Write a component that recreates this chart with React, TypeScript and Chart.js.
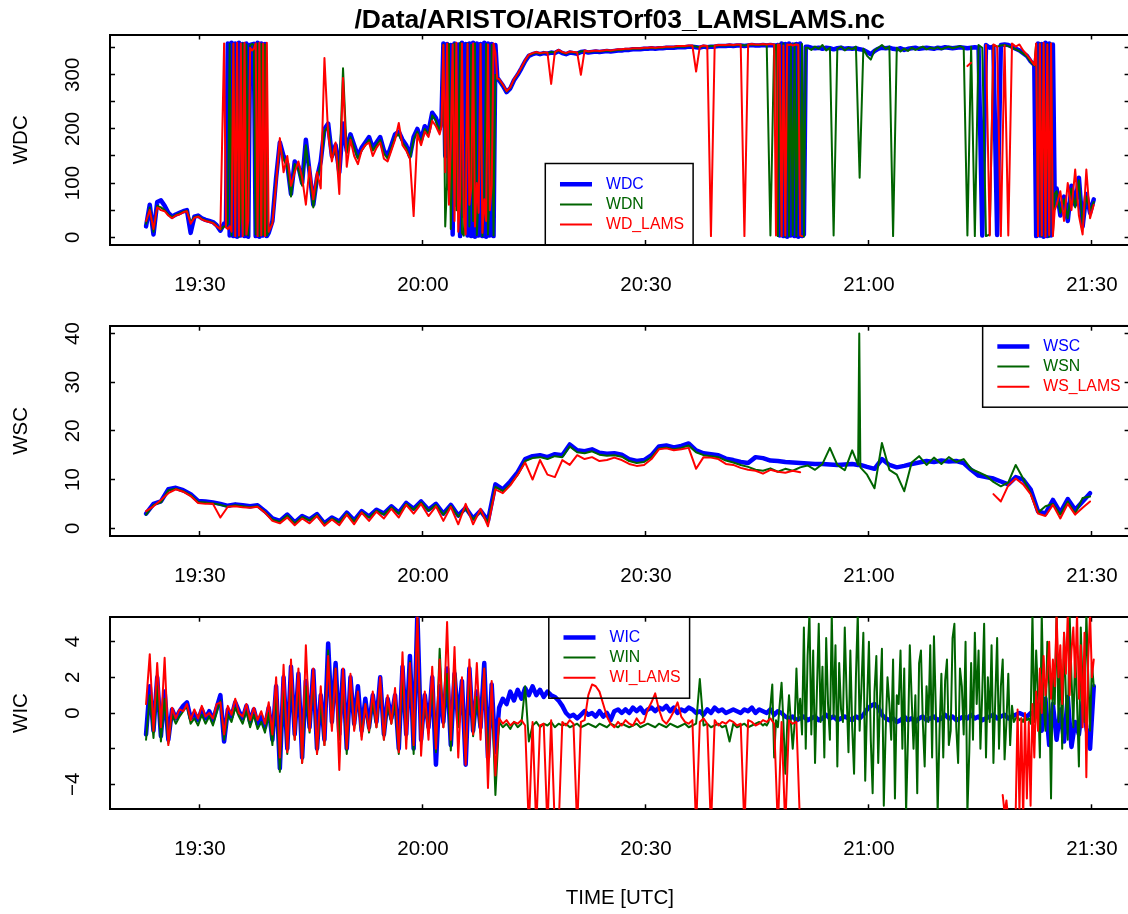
import { useEffect, useRef } from 'react';
import { Chart, registerables } from 'chart.js';

Chart.register(...registerables);

const FONT = "'Liberation Sans', Arial, Helvetica, sans-serif";
const AXIS_FONT_SIZE = 20.5;
const LEGEND_FONT_SIZE = 15.8;
const TITLE_FONT_SIZE = 26.5;

const PAGE_W = 1128;
const PAGE_H = 914;
const CANVAS_W = 1140;
const PLOT_LEFT = 110;
const PLOT_RIGHT = 1129.6;
const Y_LABEL_CENTER = 73;
const TICK_LEN = -5; // inward tick marks

const BLUE = '#0000ff';
const GREEN = '#006400';
const RED = '#ff0000';

const TITLE = '/Data/ARISTO/ARISTOrf03_LAMSLAMS.nc';
const X_TITLE = 'TIME [UTC]';

// time axis: minutes after 19:00 UTC
const X_MIN = 17.9;
const X_MAX = 155.07;
const X_TICKS = [30, 60, 90, 120, 150];
const X_TICK_LABELS = ['19:30', '20:00', '20:30', '21:00', '21:30'];

// sampling grids: [first minute, spacing in minutes, sample count]
type Grid = [number, number, number][];
const WD_GRID: Grid = [
  [22.75, 0.5, 22], [33.5, 0.25, 24], [39.75, 0.5, 46], [62.5, 0.25, 31], [70.25, 0.5, 75],
  [107.5, 0.25, 17], [111.75, 0.5, 62], [142.5, 0.25, 11], [145.25, 0.5, 11],
];
const WS_GRID: Grid = [[22.75, 1, 96], [118.55, 0.15, 3], [119.75, 1, 31]];
const WIC_GRID: Grid = [[22.75, 0.5, 256]];
const WIN_GRID: Grid = [[22.75, 0.5, 167], [106.0, 0.25, 178]];
const WIL_GRID: Grid = [[22.75, 0.5, 178], [138.0, 0.25, 50]];

const WD_TICKS = [0, 50, 100, 150, 200, 250, 300, 350];
const WD_TICK_LABELS = ['0', '', '100', '', '200', '', '300', ''];
const WS_TICKS = [0, 10, 20, 30, 40];
const WS_TICK_LABELS = ['0', '10', '20', '30', '40'];
const WI_TICKS = [-4, -2, 0, 2, 4];
const WI_TICK_LABELS = ['−4', '', '0', '2', '4'];

// wind direction [deg]
const WDC = [
  // 19:22.75 - 19:33.25
  20, 60, 5, 65, 68, 58, 45, 38, 42, 45,
  48, 50, 8, 38, 40, 35, 32, 30, 28, 22,
  12, 25,
  // 19:33.5 - 19:39.25
  22, 358, 3, 359, 2, 358, 1, 359, 3, 357, 2, 358,
  1, 355, 356, 357, 2, 359, 1, 358, 3, 357, 2, 8,
  // 19:39.75 - 20:02.25
  30, 110, 175, 150, 135, 80,
  140, 130, 100, 180, 120, 60, 110, 140, 200, 210,
  150, 170, 120, 210, 160, 190, 170, 150, 165, 175,
  185, 165, 175, 185, 160, 150, 170, 190, 195, 180,
  170, 150, 185, 200, 180, 205, 195, 230, 220, 200,
  // 20:02.5 - 20:10
  220, 358, 150, 357, 90, 355, 5, 358, 60, 356,
  2, 359, 40, 357, 3, 358, 2, 359, 1, 358,
  3, 357, 2, 359, 1, 358, 3, 357, 2, 355,
  295,
  // 20:10.25 - 20:47.25
  290, 280, 268, 275, 290,
  300, 312, 325, 335, 338, 340, 338, 340, 339, 341,
  340, 344, 340, 338, 341, 340, 339, 342, 343, 341,
  342, 343, 342, 343, 344, 343, 344, 345, 345, 346,
  346, 347, 347, 347, 348, 348, 349, 348, 349, 349,
  350, 350, 350, 351, 351, 351, 352, 352, 351, 350,
  352, 351, 352, 352, 353, 353, 353, 354, 353, 354,
  354, 353, 354, 355, 354, 354, 355, 354, 355, 354,
  // 20:47.5 - 20:51.5
  354, 355, 3, 358, 2, 357, 1, 358, 3, 356, 2, 357, 1, 358, 2, 5, 352,
  // 20:51.75 - 21:22.25
  352, 350,
  349, 350, 348, 350, 349, 347, 349, 350, 348, 349,
  348, 349, 347, 346, 342, 338, 344, 348, 350, 349,
  350, 348, 347, 349, 346, 348, 349, 350, 348, 349,
  350, 349, 348, 350, 349, 351, 350, 349, 350, 351,
  350, 349, 350, 351, 350, 3, 355, 350, 352, 4,
  355, 356, 355, 352, 348, 345, 340, 335, 325, 318,
  // 21:22.5 - 21:25
  2, 358, 3, 357, 1, 359, 2, 358, 3, 356, 60,
  // 21:25.25 - 21:30.25
  90, 40, 75, 30, 95, 60, 110, 20, 80, 45, 70,
];

const WDN = [
  25, 55, 10, 58, 55, 50, 42, 37, 41, 44,
  47, 49, 28, 37, 39, 34, 31, 29, 27, 21,
  14, 20,
  20, 25, 357, 3, 356, 2, 357, 1, 40, 358, 4, 356,
  3, 354, 357, 355, 5, 358, 2, 357, 4, 356, 3, 10,
  28, 105, 170, 145, 130, 75,
  135, 125, 95, 170, 115, 55, 105, 135, 195, 205,
  145, 165, 115, 312, 155, 185, 165, 145, 160, 170,
  180, 160, 170, 180, 155, 145, 165, 185, 190, 175,
  165, 145, 180, 195, 175, 200, 190, 225, 215, 195,
  215, 356, 20, 100, 357, 15, 180, 358, 50, 150,
  359, 8, 3, 120, 358, 20, 355, 30, 358, 4,
  80, 356, 2, 60, 357, 5, 100, 355, 3, 300,
  294,
  291, 281, 269, 276, 291,
  301, 313, 326, 336, 339, 341, 339, 341, 340, 342,
  341, 345, 341, 339, 342, 341, 340, 343, 344, 342,
  343, 344, 343, 344, 345, 344, 345, 346, 346, 347,
  347, 348, 348, 348, 349, 349, 350, 349, 350, 350,
  351, 351, 351, 352, 352, 352, 353, 353, 352, 351,
  353, 352, 353, 353, 354, 354, 354, 355, 354, 355,
  355, 354, 355, 356, 355, 355, 356, 355, 3, 355,
  355, 2, 357, 3, 358, 1, 356, 2, 357, 4, 358, 2, 356, 3, 357, 1, 350,
  350, 346,
  352, 348, 355, 345, 350, 3, 348, 352, 345, 350,
  347, 352, 110, 348, 335, 328, 345, 350, 355, 348,
  352, 2, 350, 343, 348, 344, 350, 346, 349, 352,
  347, 350, 348, 351, 347, 350, 352, 349, 351, 353,
  350, 3, 352, 2, 355, 350, 2, 5, 355, 352,
  354, 355, 353, 350, 347, 344, 339, 334, 324, 317,
  357, 3, 358, 2, 356, 4, 357, 1, 358, 5, 80,
  85, 45, 70, 35, 90, 55, 105, 25, 75, 50, 65,
];

const WD_LAMS = [
  30, 50, 15, 55, 50, 48, 40, 35, 40, 42,
  46, 48, 25, 36, 38, 33, 30, 28, 26, 20,
  15, 358,
  18, 15, 20, 10, 358, 2, 359, 3, 358, 2, 359, 5,
  30, 350, 345, 348, 358, 2, 359, 3, 358, 2, 359, 10,
  25, 100, 183, 120, 150, 95,
  120, 140, 110, 60, 130, 70, 120, 90, 331, 190,
  140, 175, 80, 294, 130, 180, 150, 135, 160, 170,
  175, 150, 165, 175, 145, 140, 160, 180, 211, 170,
  160, 145, 39, 190, 170, 195, 185, 215, 205, 190,
  205, 355, 120, 358, 60, 170, 356, 30, 359, 10,
  70, 358, 40, 5, 357, 60, 90, 358, 20, 100,
  45, 357, 8, 70, 30, 356, 50, 95, 358, 340,
  293,
  292, 282, 270, 277, 292,
  302, 314, 327, 337, 340, 342, 340, 341, 341, 283,
  342, 346, 342, 340, 343, 342, 341, 300, 345, 343,
  344, 345, 344, 345, 346, 345, 346, 347, 347, 348,
  348, 349, 349, 349, 350, 350, 351, 350, 351, 351,
  352, 352, 352, 353, 353, 353, 354, 354, 306, 352,
  354, 353, 2, 354, 355, 355, 355, 356, 355, 356,
  356, 2, 356, 357, 356, 356, 357, 356, 357, 356,
  3, 356, 355, 2, 354, 3, 356, 355, 356, 354, 355, 356, 355, 3, 2, null, null,
  null, null,
  null, null, null, null, null, null, null, null, null, null,
  null, null, null, null, null, null, null, null, null, null,
  null, null, null, null, null, null, null, null, null, null,
  null, null, null, null, null, null, null, null, null, null,
  null, 316, 322, null, null, null, 355, 3, 356, 352,
  2, 354, 3, 358, 352, 356, 345, 337, 328, 318,
  358, 2, 357, 3, 359, 1, 356, 4, 358, 2, 50,
  60, 85, 30, 100, 50, 125, 40, 5, 125, 35, 60,
];

// wind speed [m/s]
const WSC = [
  3.0, 5.0, 5.5, 8.0, 8.3, 7.8, 7.0, 5.6, 5.5, 5.3,
  5.0, 4.6, 4.9, 4.7, 4.5, 4.7, 3.5, 2.0, 1.5, 2.8,
  1.2, 2.5, 1.8, 2.9, 1.0, 2.2, 1.4, 3.2, 1.6, 3.5,
  2.4, 3.8, 3.0, 4.5, 3.2, 5.2, 4.0, 5.5, 3.8, 5.0,
  3.0, 4.8, 2.6, 4.2, 2.0, 3.6, 1.5, 9.0, 8.0, 9.6,
  11.5, 14.2, 14.8, 15.0, 14.6, 15.2, 15.0, 17.2, 16.0, 15.8,
  16.2, 15.5, 15.3, 15.4, 15.1, 14.2, 13.8, 14.0, 15.0, 16.8,
  17.0, 16.6, 16.9, 17.4, 16.0, 15.4, 15.2, 15.0, 14.3, 14.0,
  13.6, 13.4, 14.6, 14.4, 13.9, 13.8, 13.6, 13.5, 13.4, 13.3,
  13.2, 13.2, 13.1, 13.0, 13.1, 13.2,
  13.0, 13.0, 13.0,
  12.6, 12.2, 14.2,
  13.0, 12.5, 12.8, 13.2, 13.5, 13.8, 13.6, 13.9, 13.7, 13.8,
  13.4, 12.0, 10.8, 10.5, 10.2, 9.6, 9.0, 10.5, 10.0, 8.0,
  3.5, 3.0, 5.8, 3.2, 6.0, 3.8, 5.5, 7.2,
];

const WSN = [
  2.8, 4.8, 5.3, 7.8, 8.1, 7.6, 6.8, 5.4, 5.3, 5.1,
  4.8, 4.4, 4.7, 4.5, 4.3, 4.5, 3.3, 1.8, 1.3, 2.6,
  1.0, 2.3, 1.6, 2.7, 0.8, 2.0, 1.2, 3.0, 1.4, 3.3,
  2.2, 3.6, 2.8, 4.3, 3.0, 5.0, 3.8, 5.3, 3.6, 4.8,
  2.8, 4.6, 2.4, 4.0, 1.8, 3.4, 1.3, 8.5, 7.6, 9.0,
  11.0, 13.8, 14.4, 14.6, 14.2, 14.8, 14.6, 16.8, 15.6, 15.4,
  15.8, 15.1, 14.9, 15.0, 14.7, 13.8, 13.4, 13.6, 14.6, 16.4,
  16.6, 16.2, 16.5, 17.0, 15.6, 15.0, 14.8, 14.6, 13.9, 13.5,
  13.0, 12.6, 12.0, 11.8, 12.3, 11.6, 12.2, 11.8, 12.5, 12.9,
  12.0, 13.2, 16.5, 13.0, 11.9, 16.0,
  13.0, 40.0, 12.5,
  11.0, 8.2, 17.5,
  12.0, 11.0, 7.6, 13.5, 14.8, 13.0, 14.5, 13.2, 14.6, 13.6,
  14.2, 12.2, 11.5, 10.8, 9.5, 8.6, 9.4, 13.0, 10.2, 7.2,
  3.2, 4.5, 5.0, 2.8, 5.5, 3.0, 6.2, 6.5,
];

const WS_LAMS = [
  3.5, 4.5, 5.8, 7.2, 8.0, 7.5, 6.6, 5.2, 5.0, 5.0,
  2.2, 4.4, 4.5, 4.3, 4.2, 4.4, 3.2, 1.5, 1.0, 2.2,
  0.6, 2.0, 1.0, 2.5, 0.5, 1.8, 0.6, 2.8, 0.8, 3.2,
  1.5, 3.4, 2.0, 4.0, 2.2, 4.8, 3.0, 5.0, 2.5, 4.5,
  1.5, 4.4, 0.8, 5.0, 0.8, 4.0, 0.4, 8.0, 7.2, 8.8,
  11.0, 13.5, 10.0, 14.0, 11.0, 10.5, 14.0, 13.0, 15.0, 14.2,
  14.6, 13.8, 14.0, 14.5, 14.0, 13.2, 12.8, 13.0, 14.2, 16.2,
  16.4, 16.0, 16.2, 16.5, 12.2, 14.6, 14.5, 14.2, 13.2, 13.0,
  12.4, 12.0, 11.8, 11.2, 12.0, 11.6, 11.4, 11.8, 11.5, null,
  null, null, null, null, null, null,
  null, null, null,
  null, null, null,
  null, null, null, null, null, null, null, null, null, null,
  null, null, null, null, 7.0, 5.5, 8.8, 10.2, 9.0, 7.0,
  3.0, 2.5, 4.8, 2.0, 5.0, 2.8, 4.2, 5.5,
];

// vertical wind [m/s]
const WIC = [
  -1.2, 1.5, -1.0, 2.0, -1.3, 1.2, -1.5, 0.2, -0.3, 0.1,
  0.4, 0.6, -0.3, 0.0, -0.4, 0.2, -0.3, 0.1, -0.4, 0.3,
  1.0, -1.6, 0.2, -0.2, 0.6, 0.1, -0.3, 0.4, -0.5, 0.2,
  -0.6, -0.2, -0.8, 0.3, -1.5, 1.5, -3.1, 2.0, -2.0, 2.6,
  -1.2, 2.2, -2.5, 1.8, -0.8, 2.4, -2.0, 1.0, -1.5, 3.9,
  -0.5, 2.8, -1.2, 2.4, -2.0, 2.0, -0.6, 1.5, -1.0, 0.8,
  -0.8, 1.0, -0.5, 2.0, -1.2, 0.8, -0.3, 1.0, -2.0, 2.6,
  -1.2, 3.2, -2.0, 5.6, -1.5, 1.0, -0.8, 2.0, -2.9, 1.5,
  -0.5, 2.5, -1.8, 2.2, -0.5, 1.8, -2.9, 2.5, -1.0, 1.2,
  -0.8, 2.8, -2.5, 1.6, -2.2, 0.3, 0.8, 0.5, 1.2, 0.7,
  1.3, 0.8, 1.4, 1.0, 1.5, 1.0, 1.3, 0.9, 1.2, 1.0,
  0.9, 0.7, 0.4, 0.0, -0.2, -0.1, -0.3, -0.1, 0.1, -0.1,
  0.0, -0.2, 0.1, -0.2, 0.0, -0.4, 0.1, 0.2, 0.0, 0.2,
  0.0, 0.3, 0.1, 0.3, 0.0, 0.2, 0.3, 0.1, 0.3, 0.2,
  0.4, 0.1, 0.3, 0.0, 0.2, 0.1, 0.3, 0.2, 0.0, 0.1,
  -0.1, 0.2, 0.0, 0.3, 0.1, 0.2, 0.0, 0.1, 0.2, 0.1,
  0.0, 0.2, 0.1, 0.3, 0.0, 0.2, 0.1, 0.0, 0.2, -0.1,
  0.1, 0.0, -0.2, -0.3, -0.2, -0.4, -0.3, -0.2, -0.4, -0.3,
  -0.2, -0.4, -0.3, -0.1, -0.3, -0.2, -0.4, -0.3, -0.2, -0.3,
  -0.4, -0.2, -0.3, -0.1, 0.2, 0.4, 0.5, 0.3, -0.1, -0.3,
  -0.4, -0.3, -0.5, -0.4, -0.2, -0.4, -0.3, -0.5, -0.3, -0.2,
  -0.4, -0.3, -0.2, -0.4, -0.3, -0.1, -0.3, -0.2, -0.4, -0.3,
  -0.2, -0.3, -0.1, -0.3, -0.2, -0.4, -0.3, -0.2, -0.1, -0.3,
  -0.2, -0.1, -0.3, -0.2, -0.1, 0.0, -0.1, -0.2, 0.0, -0.1,
  0.5, -1.0, 0.8, -1.8, 0.5, -1.5, 0.2, -1.6, 0.9, -1.9,
  -0.5, -1.2, 0.6, -0.8, -2.0, 1.5,
];

const WIN = [
  // 19:22.75 - 20:45.75
  -1.5, 1.0, -1.4, 1.5, -1.6, 0.8, -1.7, -0.1, -0.6, -0.2,
  0.1, 0.4, -0.6, -0.3, -0.7, -0.1, -0.6, -0.2, -0.7, 0.0,
  0.7, -1.5, -0.1, -0.5, 0.3, -0.2, -0.6, 0.1, -0.8, -0.1,
  -0.9, -0.5, -1.1, 0.0, -1.8, 1.2, -3.3, 1.7, -2.3, 2.3,
  -1.5, 1.9, -2.8, 1.5, -1.1, 2.1, -2.3, 0.7, -1.8, 3.5,
  -0.8, 2.5, -1.5, 2.1, -2.3, 1.7, -0.9, 1.2, -1.3, 0.5,
  -1.1, 0.7, -0.8, 1.7, -1.5, 0.5, -0.6, 0.7, -2.3, 2.3,
  -1.5, 2.9, -2.3, 5.6, -1.8, 0.7, -1.1, 1.7, -2.2, 3.6,
  -0.8, 2.2, -2.1, 3.0, -0.8, 1.5, -2.6, 2.2, -1.3, 0.9,
  -1.1, 2.5, -2.8, 1.3, -4.6, -0.5, -0.8, -0.6, -0.9, -0.5,
  -0.8, -0.6, 1.5, -1.6, -0.7, -0.5, -0.8, -0.6, -0.7, -0.5,
  -0.8, -0.6, -0.7, -0.6, -0.8, -0.7, -0.6, -0.8, -0.7, -0.6,
  -0.7, -0.8, -0.6, -0.7, -0.8, -0.6, -0.7, -0.8, -0.6, -0.7,
  -0.8, -0.7, -0.6, -0.8, -0.7, -0.6, -0.7, -0.8, -0.6, -0.7,
  -0.8, -0.6, -0.7, -0.8, -0.7, -0.6, -0.8, -0.7, -0.6, 1.9,
  -0.7, -0.6, -0.8, -0.7, -0.6, -0.8, -0.7, -1.6, -0.6, -0.8,
  -0.7, -0.6, -0.8, -0.7, -0.6, -0.5, -0.7,
  // 20:46 - 21:30.25
  -0.6, -0.7, -0.5, 0.4, 1.6, -2.5, -0.4, -0.8,
  0.5, 1.7, -0.6, -3.4, -0.7, 1.0, -0.5, -2.0,
  -0.6, 2.5, -0.4, 0.8, -1.2, 4.8, -2.0, 3.2,
  5.6, -1.2, 3.5, -2.8, 1.2, 5.0, -0.5, 2.6,
  -2.5, 4.2, 0.5, -1.5, 5.6, -0.2, 3.8, -3.0,
  2.8, 0.2, -0.5, 4.8, 1.0, -2.2, 3.5, -0.8,
  -3.4, 2.0, 5.6, -1.0, 1.5, 4.5, -3.8, 0.5,
  4.0, -1.5, -4.5, 1.2, 3.2, -2.8, 0.8, 3.6,
  -5.2, -1.0, 2.0, 0.5, -1.5, 3.0, -4.8, 1.0,
  0.5, 3.5, -2.0, 2.5, -5.6, -1.5, 3.8, 0.8,
  -2.0, 1.0, -4.5, 2.8, 3.5, -0.5, -3.0, 1.5,
  -0.5, 3.8, -2.5, 4.3, 0.2, -5.6, -1.0, 2.2,
  -2.5, 1.8, 3.0, -1.8, -1.0, 4.2, 5.0, -0.8,
  -2.8, 2.5, 1.5, -1.2, 4.0, -5.6, -2.2, 2.8,
  -1.5, 4.5, 0.5, 3.5, -2.0, 1.2, 5.0, -2.5,
  2.0, -0.5, 3.8, -2.8, 0.8, 4.2, -2.0, 1.5,
  3.0, -2.6, -0.5, 2.2, -1.8, 0.4, -0.5, -0.3,
  -0.2, -0.4, -0.3, -0.5, -0.2, -0.4, -0.3, -0.6,
  5.6, -0.5, 3.5, 1.0, -2.5, 5.6, 0.5, -1.0,
  4.0, 1.5, -4.8, 2.5, 0.5, 5.6, -0.5, 3.0,
  -2.0, 4.5, 1.0, -1.5, 5.6, 2.0, -0.8, 3.5,
  0.5, -3.0, 4.8, 1.5, -0.5, 5.6, 2.2, -1.0,
  2.8, 1.5,
];

const WI_LAMS = [
  // 19:22.75 - 20:51.25, ending in a data gap
  0.5, 3.3, -1.0, 2.8, -0.8, 3.1, -1.8, 0.3, -0.3, 0.2,
  0.1, 0.5, -0.4, 0.2, -0.3, 0.4, -0.2, 0.0, -0.3, 0.5,
  0.6, -1.2, 0.4, -0.1, 0.8, 0.0, -0.2, 0.5, -0.4, 0.3,
  -0.4, 0.1, -0.6, 0.6, -1.2, 2.0, -2.5, 2.7, -2.2, 3.0,
  -1.5, 2.5, -2.8, 3.8, -1.0, 2.5, -2.3, 1.5, -1.8, 3.2,
  -1.0, 2.5, -3.2, 2.5, -2.0, 2.2, -1.0, 1.2, -1.5, 0.5,
  -1.0, 1.2, -0.8, 2.0, -1.5, 1.0, -0.6, 1.4, -2.2, 3.4,
  -2.0, 2.8, -1.8, 5.6, -2.4, 1.2, -1.5, 2.6, -2.0, 3.0,
  -0.8, 5.1, -1.5, 3.7, -2.5, 2.0, -2.9, 3.0, -1.2, 2.8,
  -1.5, 2.5, -4.2, 1.8, -3.5, -0.3, -0.6, -0.4, -0.7, -0.5,
  -0.6, -0.4, -0.7, -6.5, -0.5, -6.5, -0.7, -0.6, -6.5, -0.4,
  -6.5, -6.5, -0.5, -0.7, -0.4, -0.6, -6.5, -0.5, -0.4, 1.0,
  1.6, 1.5, 1.2, 0.5, -0.2, -0.6, -0.8, -0.5, -0.7, -0.4,
  -0.6, -0.7, -0.3, -0.6, -0.5, 0.2, 0.6, 1.1, 0.2, -0.4,
  -0.6, -0.3, 0.1, 0.6, -0.2, -0.5, -0.6, -0.4, -6.5, -0.5,
  -0.3, -0.6, -6.5, -0.4, -0.7, -0.5, -0.6, -0.4, -0.5, -0.7,
  -0.6, -6.5, -0.4, -0.5, -0.7, -0.6, -0.4, -0.5, -0.3, -0.6,
  -6.5, -0.5, -6.5, -0.4, -0.6, -0.5, -6.5, null,
  // 21:18 - 21:30.25
  -4.6, -5.6, -4.9, -6.0, null, null, -6.0, -5.5,
  0.2, -5.5, -0.3, -6.0, 0.0, -4.8, -0.5, -5.2,
  0.5, -2.5, 1.2, -1.0, 2.5, 0.0, 3.2, 1.0,
  2.2, 4.0, 0.8, 3.0, 1.5, 5.6, 2.0, 3.8,
  0.5, 4.5, 2.2, 5.6, 1.0, 3.5, 4.8, 2.0,
  5.6, 0.8, 3.8, -0.8, 4.5, -3.6, 3.0, 5.6,
  2.0, 3.0,
];

type Series = { label: string; color: string; width: number; grid: Grid; values: (number | null)[] };
type Panel = {
  top: number;
  height: number;
  boxTop: number;
  boxBottom: number;
  yMin: number;
  yMax: number;
  yTicks: number[];
  yTickLabels: string[];
  yTitle: string;
  legendAt: 'bottom' | 'top' | 'topright';
  series: Series[];
  title?: string;
  xTitle?: string;
};

const PANELS: Panel[] = [
  {
    top: 0, height: 300, boxTop: 34.5, boxBottom: 245,
    yMin: -14.4, yMax: 374.4, yTicks: WD_TICKS, yTickLabels: WD_TICK_LABELS, yTitle: 'WDC',
    legendAt: 'bottom', title: TITLE,
    series: [
      { label: 'WDC', color: BLUE, width: 4.5, grid: WD_GRID, values: WDC },
      { label: 'WDN', color: GREEN, width: 2, grid: WD_GRID, values: WDN },
      { label: 'WD_LAMS', color: RED, width: 2, grid: WD_GRID, values: WD_LAMS },
    ],
  },
  {
    top: 300, height: 295, boxTop: 325.7, boxBottom: 536,
    yMin: -1.6, yMax: 41.6, yTicks: WS_TICKS, yTickLabels: WS_TICK_LABELS, yTitle: 'WSC',
    legendAt: 'topright',
    series: [
      { label: 'WSC', color: BLUE, width: 4.5, grid: WS_GRID, values: WSC },
      { label: 'WSN', color: GREEN, width: 2, grid: WS_GRID, values: WSN },
      { label: 'WS_LAMS', color: RED, width: 2, grid: WS_GRID, values: WS_LAMS },
    ],
  },
  {
    top: 595, height: 319, boxTop: 616.7, boxBottom: 809.3,
    yMin: -5.4, yMax: 5.4, yTicks: WI_TICKS, yTickLabels: WI_TICK_LABELS, yTitle: 'WIC',
    legendAt: 'top', xTitle: X_TITLE,
    series: [
      { label: 'WIC', color: BLUE, width: 4.5, grid: WIC_GRID, values: WIC },
      { label: 'WIN', color: GREEN, width: 2, grid: WIN_GRID, values: WIN },
      { label: 'WI_LAMS', color: RED, width: 2, grid: WIL_GRID, values: WI_LAMS },
    ],
  },
];

function gridTimes(grid: Grid): number[] {
  return grid.flatMap(([start, step, count]) => Array.from({ length: count }, (_, i) => start + i * step));
}

function textWidth(text: string, size: number): number {
  const ctx = document.createElement('canvas').getContext('2d')!;
  ctx.font = `${size}px ${FONT}`;
  return ctx.measureText(text).width;
}

// framed legend with line samples, placed inside the plot region
function makeLegend(p: Panel) {
  return {
    id: 'boxLegend',
    afterDatasetsDraw(chart: any) {
      const { ctx, chartArea: a } = chart;
      ctx.save();
      ctx.font = `${LEGEND_FONT_SIZE}px ${FONT}`;
      const textW = Math.max(...p.series.map((s) => ctx.measureText(s.label).width));
      const w = 69.7 + textW;
      const h = 81.5;
      const mid = (PLOT_LEFT + a.right - 1.2) / 2;
      const left = p.legendAt === 'topright' ? a.right - w : mid - w / 2;
      const top = p.legendAt === 'bottom' ? a.bottom - h : a.top;
      ctx.strokeStyle = '#000';
      ctx.lineWidth = 1.5;
      ctx.strokeRect(left, top, w, h);
      p.series.forEach((s, k) => {
        const y = top + 20.7 + k * 20.2;
        ctx.strokeStyle = s.color;
        ctx.lineWidth = s.width;
        ctx.lineCap = 'butt';
        ctx.beginPath();
        ctx.moveTo(left + 14.7, y);
        ctx.lineTo(left + 46.7, y);
        ctx.stroke();
        ctx.fillStyle = s.color;
        ctx.textAlign = 'left';
        ctx.textBaseline = 'middle';
        ctx.fillText(s.label, left + 60.7, y);
      });
      ctx.restore();
    },
  };
}

// fixes an axis' thickness and drops the label overhang padding chart.js would add
const fixSize = (dim: 'width' | 'height', v: number) => (s: any) => {
  s[dim] = v;
  s.paddingLeft = 0;
  s.paddingRight = 0;
  s.paddingTop = 0;
  s.paddingBottom = 0;
};

function buildConfig(p: Panel): any {
  const xHeight = p.top + p.height - p.boxBottom;
  const widest = Math.max(...p.yTickLabels.map((l) => textWidth(l, AXIS_FONT_SIZE)));
  const yPad = PLOT_LEFT - Y_LABEL_CENTER - widest / 2 - TICK_LEN;
  const axisFont = { family: FONT, size: AXIS_FONT_SIZE };
  const grid = {
    display: true,
    drawOnChartArea: false,
    drawTicks: true,
    tickLength: TICK_LEN,
    tickColor: '#000',
    tickWidth: 1.5,
  };
  const border = { display: true, color: '#000', width: 2 };
  const fixTicks = (vals: number[]) => (scale: any) => {
    scale.ticks = vals.map((v) => ({ value: v }));
  };

  const datasets = p.series.map((s, k) => {
    const times = gridTimes(s.grid);
    return {
      label: s.label,
      data: times.map((t, i) => ({ x: t, y: s.values[i] ?? null })),
      borderColor: s.color,
      backgroundColor: s.color,
      borderWidth: s.width,
      borderJoinStyle: 'round',
      borderCapStyle: 'round',
      pointRadius: 0,
      pointHoverRadius: 0,
      pointHitRadius: 0,
      tension: 0,
      fill: false,
      spanGaps: false,
      order: p.series.length - k,
    };
  });

  return {
    type: 'line',
    data: { datasets },
    options: {
      animation: false,
      responsive: false,
      maintainAspectRatio: false,
      events: [],
      layout: {
        padding: {
          left: 0,
          right: CANVAS_W - PLOT_RIGHT,
          top: p.title ? 0 : p.boxTop - p.top,
          bottom: 0,
        },
      },
      plugins: {
        legend: { display: false },
        tooltip: { enabled: false },
        title: p.title
          ? {
              display: true,
              text: p.title,
              fullSize: false,
              align: 'center',
              color: '#000',
              font: { family: FONT, size: TITLE_FONT_SIZE, weight: 'bold', lineHeight: 1 },
              padding: { top: p.boxTop - p.top - TITLE_FONT_SIZE - 0.25, bottom: 0.25 },
            }
          : { display: false },
      },
      scales: {
        x: {
          type: 'linear',
          position: 'bottom',
          min: X_MIN,
          max: X_MAX,
          bounds: 'data',
          afterBuildTicks: fixTicks(X_TICKS),
          afterFit: fixSize('height', xHeight),
          ticks: {
            autoSkip: false,
            minRotation: 0,
            maxRotation: 0,
            padding: 32.7,
            color: '#000',
            font: axisFont,
            callback: (_v: number, i: number) => X_TICK_LABELS[i] ?? '',
          },
          grid,
          border,
          title: p.xTitle
            ? {
                display: true,
                text: p.xTitle,
                color: '#000',
                font: axisFont,
                padding: { top: 0, bottom: 3.7 },
              }
            : { display: false },
        },
        xTop: {
          type: 'linear',
          axis: 'x',
          position: 'top',
          display: true,
          min: X_MIN,
          max: X_MAX,
          bounds: 'data',
          afterBuildTicks: fixTicks(X_TICKS),
          afterFit: fixSize('height', 0),
          ticks: { display: false },
          grid,
          border,
        },
        y: {
          type: 'linear',
          position: 'left',
          min: p.yMin,
          max: p.yMax,
          bounds: 'data',
          afterBuildTicks: fixTicks(p.yTicks),
          afterFit: fixSize('width', PLOT_LEFT),
          ticks: {
            autoSkip: false,
            minRotation: 90,
            maxRotation: 90,
            crossAlign: 'center',
            padding: yPad,
            color: '#000',
            font: axisFont,
            callback: (_v: number, i: number) => p.yTickLabels[i] ?? '',
          },
          grid,
          border,
          title: {
            display: true,
            text: p.yTitle,
            color: '#000',
            font: axisFont,
            padding: { top: 9, bottom: 0 },
          },
        },
        yRight: {
          type: 'linear',
          axis: 'y',
          position: 'right',
          display: true,
          min: p.yMin,
          max: p.yMax,
          bounds: 'data',
          afterBuildTicks: fixTicks(p.yTicks),
          afterFit: fixSize('width', 0),
          ticks: { display: false },
          grid,
          border,
        },
      },
    },
    plugins: [makeLegend(p)],
  };
}

export default function App() {
  const refs = [
    useRef<HTMLCanvasElement>(null),
    useRef<HTMLCanvasElement>(null),
    useRef<HTMLCanvasElement>(null),
  ];

  useEffect(() => {
    const charts = PANELS.map((p, k) => new Chart(refs[k].current!, buildConfig(p)));
    return () => charts.forEach((c) => c.destroy());
  }, []);

  return (
    <div
      style={{
        position: 'absolute',
        left: 0,
        top: 0,
        width: PAGE_W,
        height: PAGE_H,
        overflow: 'hidden',
        background: '#fff',
      }}
    >
      {PANELS.map((p, k) => (
        <canvas
          key={k}
          ref={refs[k]}
          width={CANVAS_W}
          height={p.height}
          style={{ position: 'absolute', left: 0, top: p.top, width: CANVAS_W, height: p.height }}
        />
      ))}
    </div>
  );
}
